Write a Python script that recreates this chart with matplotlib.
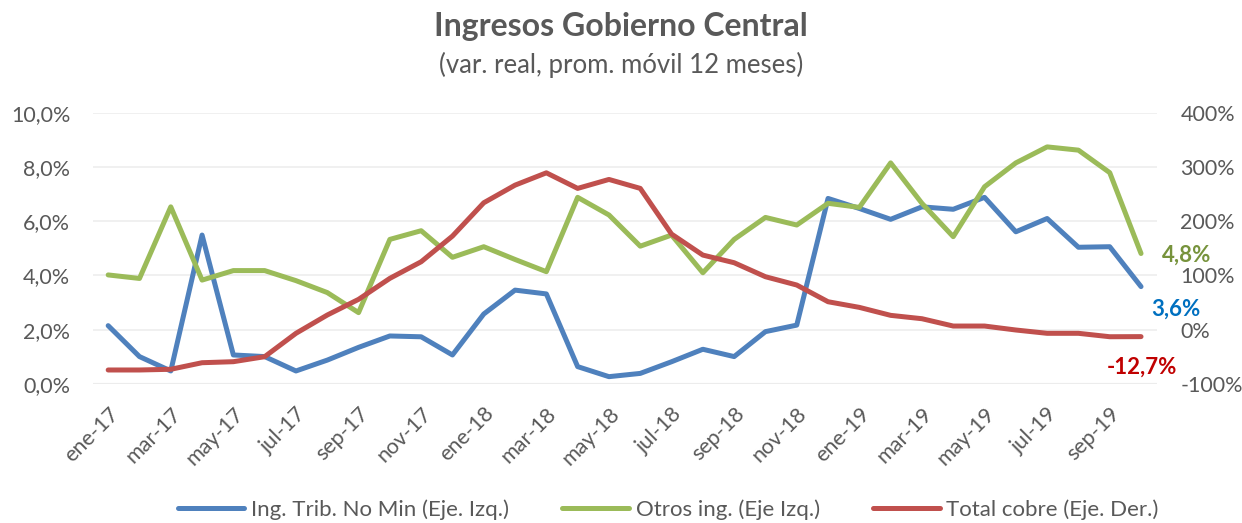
import numpy as np
import matplotlib
matplotlib.use("Agg")
import matplotlib.pyplot as plt
from matplotlib.ticker import FuncFormatter

plt.rcParams['font.family'] = ['Lato', 'DejaVu Sans']

meses = ['ene', 'feb', 'mar', 'abr', 'may', 'jun', 'jul', 'ago', 'sep', 'oct', 'nov', 'dic']
fechas = [f"{m}-{a}" for a in ['17', '18', '19'] for m in meses][:34]

# Ing. Trib. No Min (eje izq., %)
trib = [2.15, 1.01, 0.48, 5.49, 1.07, 1.01, 0.48, 0.88, 1.35, 1.77,
        1.74, 1.07, 2.58, 3.46, 3.32, 0.64, 0.27, 0.39, 0.82, 1.28,
        1.01, 1.93, 2.17, 6.84, 6.47, 6.07, 6.53, 6.44, 6.88, 5.61,
        6.10, 5.04, 5.06, 3.59]
# Otros ing. (eje izq., %)
otros = [4.02, 3.89, 6.53, 3.83, 4.18, 4.18, 3.81, 3.37, 2.63, 5.33,
         5.65, 4.67, 5.06, 4.59, 4.14, 6.88, 6.23, 5.08, 5.49, 4.10,
         5.33, 6.14, 5.86, 6.66, 6.51, 8.15, 6.66, 5.43, 7.27, 8.15,
         8.74, 8.62, 7.79, 4.81]
# Total cobre (eje der., %)
cobre = [-74.2, -74.2, -72.9, -60.8, -58.9, -49.7, -6.6, 27.1, 56.0, 94.7,
         125.3, 172.6, 234.0, 266.5, 289.2, 260.5, 277.0, 260.5, 176.3, 137.6,
         123.5, 97.7, 82.4, 51.6, 41.2, 26.5, 20.3, 6.8, 6.8, -0.5,
         -6.6, -6.6, -12.9, -12.7]

azul = '#4F81BD'
verde = '#9BBB59'
rojo = '#C0504D'
gris = '#595959'

fig = plt.figure(figsize=(12.42, 5.23), dpi=100)
ax = fig.add_axes([0.0745, 0.2658, 0.8568, 0.5187])
ax2 = ax.twinx()

x = np.arange(len(fechas))
lw = 3.6
l1, = ax.plot(x, trib, color=azul, lw=lw, solid_capstyle='round', label='Ing. Trib. No Min (Eje. Izq.)', zorder=3)
l2, = ax.plot(x, otros, color=verde, lw=lw, solid_capstyle='round', label='Otros ing. (Eje Izq.)', zorder=3)
l3, = ax2.plot(x, cobre, color=rojo, lw=lw, solid_capstyle='round', label='Total cobre (Eje. Der.)', zorder=3)

ax.set_xlim(-0.5, len(fechas) - 0.5)
ax.set_ylim(0, 10)
ax2.set_ylim(-100, 400)
ax.set_yticks(np.arange(0, 10.1, 2))
ax2.set_yticks(np.arange(-100, 401, 100))
ax.yaxis.set_major_formatter(FuncFormatter(lambda v, p: f"{v:.1f}%".replace('.', ',')))
ax2.yaxis.set_major_formatter(FuncFormatter(lambda v, p: f"{v:.0f}%"))

ax.set_xticks(x[::2])
ax.set_xticklabels(fechas[::2], rotation=45, ha='right', rotation_mode='anchor')

for a in (ax, ax2):
    for s in a.spines.values():
        s.set_visible(False)
    a.tick_params(length=0, labelsize=15.5, labelcolor=gris)
ax.tick_params(axis='y', pad=16)
ax2.tick_params(axis='y', pad=17)
ax.tick_params(axis='x', pad=14)

ax.grid(axis='y', color='#EFEFEF', lw=1.3, zorder=0)
ax.axhline(0, color='#D9D9D9', lw=1.5, zorder=1)

# etiquetas del último dato
ax.annotate('4,8%', xy=(x[-1], otros[-1]), xytext=(15, -1), textcoords='offset points',
            color='#77933C', fontsize=16, fontweight='bold', va='center', ha='left')
ax.annotate('3,6%', xy=(x[-1], trib[-1]), xytext=(7, -16), textcoords='offset points',
            color='#0070C0', fontsize=16, fontweight='bold', va='center', ha='left')
ax2.annotate('-12,7%', xy=(x[-1], cobre[-1]), xytext=(1, -22), textcoords='offset points',
             color='#C00000', fontsize=16, fontweight='bold', va='center', ha='center')

fig.text(0.5, 0.950, 'Ingresos Gobierno Central', ha='center', va='center',
         fontsize=23, fontweight='bold', color=gris)
fig.text(0.5, 0.875, '(var. real, prom. móvil 12 meses)', ha='center', va='center',
         fontsize=18.5, color=gris)

fig.legend(handles=[l1, l2, l3], loc='center', bbox_to_anchor=(0.538, 0.025), ncol=3,
           frameon=False, fontsize=16, labelcolor=gris, handlelength=3.0,
           handletextpad=0.3, columnspacing=2.4)

fig.savefig('out.png', dpi=100)
